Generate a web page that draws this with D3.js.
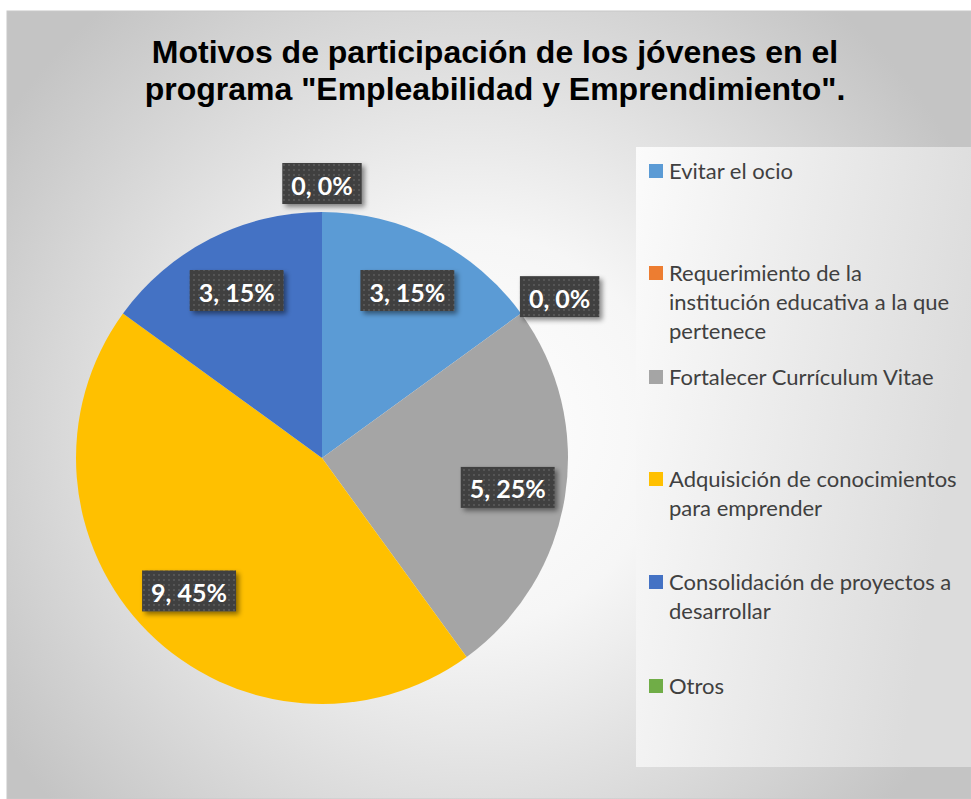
<!DOCTYPE html>
<html><head><meta charset="utf-8">
<script src="https://cdn.jsdelivr.net/npm/d3@7"></script>
<style>html,body{margin:0;padding:0;background:#fff;}svg{display:block;}</style>
</head><body>
<script>
const categories = ["Evitar el ocio","Requerimiento de la institución educativa a la que pertenece","Fortalecer Currículum Vitae","Adquisición de conocimientos para emprender","Consolidación de proyectos a desarrollar","Otros"];
const legendLines = [["Evitar el ocio"],["Requerimiento de la","institución educativa a la que","pertenece"],["Fortalecer Currículum Vitae"],["Adquisición de conocimientos","para emprender"],["Consolidación de proyectos a","desarrollar"],["Otros"]];
const values = [3,0,5,9,3,0];
const percents = ["15%","0%","25%","45%","15%","0%"];
const colors = ["#5B9BD5","#ED7D31","#A5A5A5","#FFC000","#4472C4","#70AD47"];
const titleLines = ["Motivos de participación de los jóvenes en el","programa \"Empleabilidad y Emprendimiento\"."];

const W=971,H=799;
const svg=d3.select("body").append("svg").attr("width",W).attr("height",H);
const defs=svg.append("defs");
const rg=defs.append("radialGradient").attr("id","bg").attr("gradientUnits","userSpaceOnUse")
  .attr("cx",470).attr("cy",430).attr("r",560);
rg.append("stop").attr("offset","0%").attr("stop-color","#ffffff");
rg.append("stop").attr("offset","35%").attr("stop-color","#f6f6f6");
rg.append("stop").attr("offset","100%").attr("stop-color","#c4c4c4");
const lg=defs.append("linearGradient").attr("id","lg").attr("x1","0").attr("x2","1").attr("y1","0").attr("y2","0.3");
lg.append("stop").attr("offset","0%").attr("stop-color","#fbfbfb");
lg.append("stop").attr("offset","100%").attr("stop-color","#dcdcdc");
const pat=defs.append("pattern").attr("id","dots").attr("patternUnits","userSpaceOnUse").attr("width",5).attr("height",5);
pat.append("rect").attr("width",5).attr("height",5).attr("fill","#3f3f3f");
pat.append("rect").attr("x",1).attr("y",1).attr("width",2).attr("height",2).attr("fill","#555555");
const f=defs.append("filter").attr("id","sh").attr("x","-20%").attr("y","-20%").attr("width","150%").attr("height","160%");
f.append("feDropShadow").attr("dx",3).attr("dy",3).attr("stdDeviation",2.5).attr("flood-color","#000").attr("flood-opacity",0.45);

// chart area
svg.append("rect").attr("x",7).attr("y",11).attr("width",W-7).attr("height",H-11)
  .attr("fill","url(#bg)").attr("stroke","#c8c8c8").attr("stroke-width",1);

// title
const title=svg.append("text").attr("x",495).attr("text-anchor","middle")
  .attr("font-family","Liberation Sans, Arial, sans-serif").attr("font-weight","bold").attr("font-size",32).attr("fill","#000");
titleLines.forEach((t,i)=>title.append("tspan").attr("x",495).attr("y",63+37*i).text(t));

// legend panel
svg.append("rect").attr("x",636).attr("y",147).attr("width",W-636).attr("height",620).attr("fill","url(#lg)");

// pie
const cx=322,cy=458,R=246;
const pie=d3.pie().sort(null).value(d=>d.v).startAngle(0).endAngle(2*Math.PI);
const data=categories.map((c,i)=>({c,v:values[i],p:percents[i],col:colors[i]}));
const arcs=pie(data);
const arc=d3.arc().innerRadius(0).outerRadius(R);
const g=svg.append("g").attr("transform",`translate(${cx},${cy})`);
g.selectAll("path").data(arcs).join("path").attr("d",arc).attr("fill",d=>d.data.col);

// labels
const inArc=d3.arc().innerRadius(188).outerRadius(188);
const fontL="Lato, 'Open Sans', sans-serif";
arcs.forEach(d=>{
  const txt=`${d.data.v}, ${d.data.p}`;
  const lab=g.append("g");
  const t=lab.append("text").attr("text-anchor","middle").attr("dominant-baseline","central")
    .attr("font-family",fontL).attr("font-weight","bold").attr("font-size",25).attr("fill","#fff").text(txt);
  const tw=t.node().getComputedTextLength();
  const bw=tw+18,bh=41;
  let px,py;
  if(d.data.v>0){
    [px,py]=inArc.centroid(d);
  } else {
    const a=d.startAngle, r0=R+8;
    px=r0*Math.sin(a)+Math.sin(a)*bw/2;
    py=-r0*Math.cos(a)-Math.cos(a)*bh/2;
  }
  lab.insert("rect","text").attr("x",px-bw/2).attr("y",py-bh/2).attr("width",bw).attr("height",bh)
    .attr("fill","url(#dots)").attr("filter","url(#sh)");
  t.attr("x",px).attr("y",py+1);
});

// legend
const ly=[171,273,377,479,582,686];
const leg=svg.append("g");
legendLines.forEach((lines,i)=>{
  leg.append("rect").attr("x",649).attr("y",ly[i]-7).attr("width",14).attr("height",14).attr("fill",colors[i]);
  const t=leg.append("text").attr("font-family",fontL).attr("font-size",22).attr("fill","#404040");
  lines.forEach((s,j)=>t.append("tspan").attr("x",669).attr("y",ly[i]+8+29*j).text(s));
});
</script>
</body></html>
